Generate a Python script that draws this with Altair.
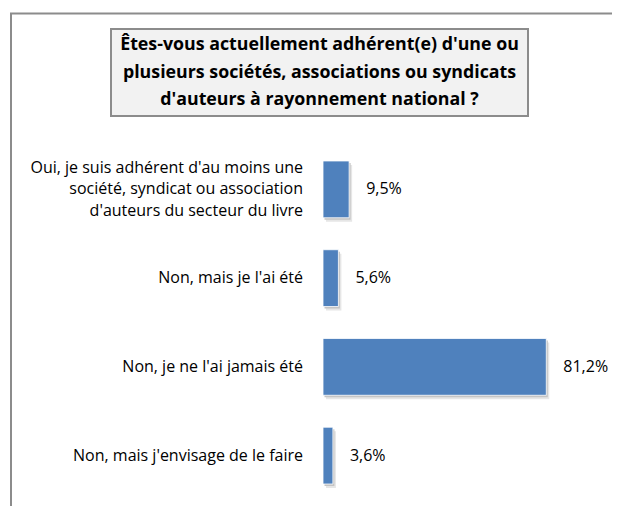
import altair as alt
import pandas as pd

categories = [
    "Oui, je suis adhérent d'au moins une\nsociété, syndicat ou association\nd'auteurs du secteur du livre",
    "Non, mais je l'ai été",
    "Non, je ne l'ai jamais été",
    "Non, mais j'envisage de le faire",
]
values = [9.5, 5.6, 81.2, 3.6]
value_labels = ["9,5%", "5,6%", "81,2%", "3,6%"]
title_text = ("Êtes-vous actuellement adhérent(e) d'une ou\n"
              "plusieurs sociétés, associations ou syndicats\n"
              "d'auteurs à rayonnement national ?")

df = pd.DataFrame({"cat": categories, "val": values, "lab": value_labels})
df["nlines"] = df["cat"].str.count("\n") + 1
one = pd.DataFrame({"k": [0]})

FONT = "Open Sans"
LH = 21.5

y_enc = alt.Y("cat:N", sort=categories,
              scale=alt.Scale(paddingInner=0.36, paddingOuter=0.18), axis=None)
x_enc = alt.X("val:Q", scale=alt.Scale(domain=[0, 100]), axis=None)

base = alt.Chart(df)

frame = alt.Chart(one).mark_rect(fill="white", stroke="#8c8c8c", strokeWidth=2).encode(
    x=alt.value(-312), x2=alt.value(700), y=alt.value(-131.5), y2=alt.value(600))

title_box = alt.Chart(one).mark_rect(fill="#f2f2f2", stroke="#8c8c8c", strokeWidth=2).encode(
    x=alt.value(-212), x2=alt.value(205), y=alt.value(-116), y2=alt.value(-29))

title = alt.Chart(one).mark_text(
    font=FONT, fontSize=17.8, fontWeight="bold", color="#000000",
    align="center", baseline="middle", lineBreak="\n", lineHeight=27.5
).encode(x=alt.value(-3.5), y=alt.value(-100), text=alt.value(title_text))

shadow2 = base.mark_bar(color="#e6e6e6", xOffset=3, yOffset=4).encode(y=y_enc, x=x_enc)
shadow1 = base.mark_bar(color="#c4c4c4", xOffset=1.5, yOffset=2).encode(y=y_enc, x=x_enc)
bars = base.mark_bar(color="#4f81bd", stroke="#ffffff", strokeWidth=0.8).encode(y=y_enc, x=x_enc)

vals = base.mark_text(font=FONT, fontSize=16, color="#000000", align="left",
                      baseline="middle", dx=17).encode(y=y_enc, x=x_enc, text="lab:N")

cat_layers = []
for n in sorted(df["nlines"].unique()):
    cat_layers.append(
        base.transform_filter(alt.datum.nlines == int(n)).mark_text(
            font=FONT, fontSize=16, color="#000000", align="right",
            baseline="middle", lineBreak="\n", lineHeight=LH,
            dy=-(int(n) - 1) * LH / 2,
        ).encode(y=y_enc, x=alt.value(-20), text="cat:N")
    )

chart = alt.layer(frame, title_box, title, shadow2, shadow1, bars, vals, *cat_layers).properties(
    width=275, height=355,
    padding={"left": 315, "top": 137, "right": 14, "bottom": 6},
    autosize=alt.AutoSizeParams(type="none"),
).configure_view(strokeWidth=0)

chart.save("out.html", embed_options={"renderer": "svg", "actions": False})
